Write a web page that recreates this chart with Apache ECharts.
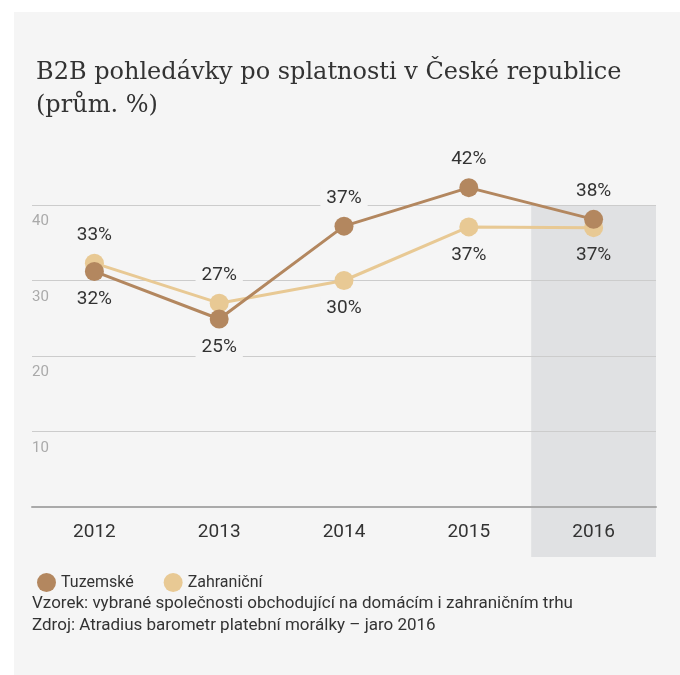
<!DOCTYPE html>
<html>
<head>
<meta charset="utf-8">
<script src="https://cdn.jsdelivr.net/npm/echarts@6/dist/echarts.min.js"></script>
<style>
  html, body { margin: 0; padding: 0; background: #fff; }
  #chart { width: 680px; height: 675px; }
</style>
</head>
<body>
<div id="chart"></div>
<script>
const years = ['2012', '2013', '2014', '2015', '2016']
const tuzemske = [31.2, 24.9, 37.2, 42.3, 38.1]
const tuzemskeLabels = ['32%', '25%', '37%', '42%', '38%']
const tuzemskePos = ['bottom', 'bottom', 'top', 'top', 'top']
const zahranicni = [32.3, 27.0, 30.0, 37.1, 37.0]
const zahranicniLabels = ['33%', '27%', '30%', '37%', '37%']
const zahranicniPos = ['top', 'top', 'bottom', 'bottom', 'bottom']
const highlightYear = '2016'

const panelColor = '#f5f5f5'
const bandColor = '#e0e1e3'
const narrow = '"Liberation Sans Narrow", "Roboto", sans-serif'

const chartDom = document.getElementById('chart')
const myChart = echarts.init(chartDom)

// label text and side per point; labels mask the grid with the background colour
const makeData = (values, labels, pos) => values.map((v, i) => ({
  value: v,
  label: {
    position: pos[i],
    formatter: labels[i],
    backgroundColor: (years[i] === highlightYear && pos[i] === 'bottom') ? bandColor : panelColor
  }
}))

const seriesLabel = {
  show: true,
  fontFamily: narrow,
  fontSize: 19,
  color: '#333',
  padding: [2, 6],
  distance: 7
}

let option = {
  backgroundColor: '#fff',
  animation: false,
  title: {
    text: 'B2B pohledávky po splatnosti v České republice\n(prům. %)',
    left: 31,
    top: 51,
    textStyle: {
      fontFamily: '"DejaVu Serif", serif',
      fontWeight: 'normal',
      fontSize: 24,
      lineHeight: 33,
      color: '#333'
    }
  },
  legend: {
    left: 32,
    top: 568,
    icon: 'circle',
    itemWidth: 19,
    itemHeight: 19,
    itemGap: 30,
    textStyle: { fontFamily: narrow, fontSize: 16, color: '#333' },
    data: ['Tuzemské', 'Zahraniční']
  },
  grid: {
    left: 32,
    right: 24,
    top: 205,
    bottom: 168
  },
  xAxis: {
    type: 'category',
    data: years,
    axisLine: { lineStyle: { color: '#aaa', width: 2 } },
    axisTick: { alignWithLabel: true, length: 4, lineStyle: { color: '#aaa' } },
    axisLabel: { fontFamily: narrow, fontSize: 19, color: '#333', margin: 16 }
  },
  yAxis: {
    type: 'value',
    min: 0,
    max: 40,
    interval: 10,
    axisLine: { show: false },
    axisTick: { show: false },
    splitLine: { lineStyle: { color: '#ccc' } },
    axisLabel: {
      inside: true,
      margin: 0,
      verticalAlign: 'top',
      padding: [9, 0, 0, 0],
      fontFamily: narrow,
      fontSize: 15,
      color: '#aaa',
      showMinLabel: false
    }
  },
  series: [
    {
      name: 'Tuzemské',
      type: 'line',
      clip: false,
      z: 4,
      data: makeData(tuzemske, tuzemskeLabels, tuzemskePos),
      color: '#b3875f',
      symbol: 'circle',
      symbolSize: 19,
      lineStyle: { width: 3 },
      label: seriesLabel
    },
    {
      name: 'Zahraniční',
      type: 'line',
      clip: false,
      z: 3,
      data: makeData(zahranicni, zahranicniLabels, zahranicniPos),
      color: '#e8c994',
      symbol: 'circle',
      symbolSize: 19,
      lineStyle: { width: 3 },
      label: seriesLabel
    }
  ]
}
option && myChart.setOption(option)

// panel background, highlighted band and footnote, placed from the axes
const gridTop = myChart.convertToPixel({ yAxisIndex: 0 }, 40)
const gridBottom = myChart.convertToPixel({ yAxisIndex: 0 }, 0)
const bandW = myChart.convertToPixel({ xAxisIndex: 0 }, years[1]) - myChart.convertToPixel({ xAxisIndex: 0 }, years[0])
const bandX = myChart.convertToPixel({ xAxisIndex: 0 }, highlightYear) - bandW / 2

myChart.setOption({
  graphic: [
    {
      type: 'rect', z: -10, silent: true,
      shape: { x: 14, y: 12, width: 680, height: 675 },
      style: { fill: panelColor }
    },
    {
      type: 'rect', z: -9, silent: true,
      shape: { x: bandX, y: gridTop, width: bandW, height: gridBottom - gridTop + 50 },
      style: { fill: bandColor }
    },
    {
      type: 'text', left: 32, top: 593,
      style: {
        text: 'Vzorek: vybrané společnosti obchodující na domácím i zahraničním trhu\nZdroj: Atradius barometr platební morálky – jaro 2016',
        fontFamily: narrow, fontSize: 17, lineHeight: 22, fill: '#333'
      }
    }
  ]
})
</script>
</body>
</html>
